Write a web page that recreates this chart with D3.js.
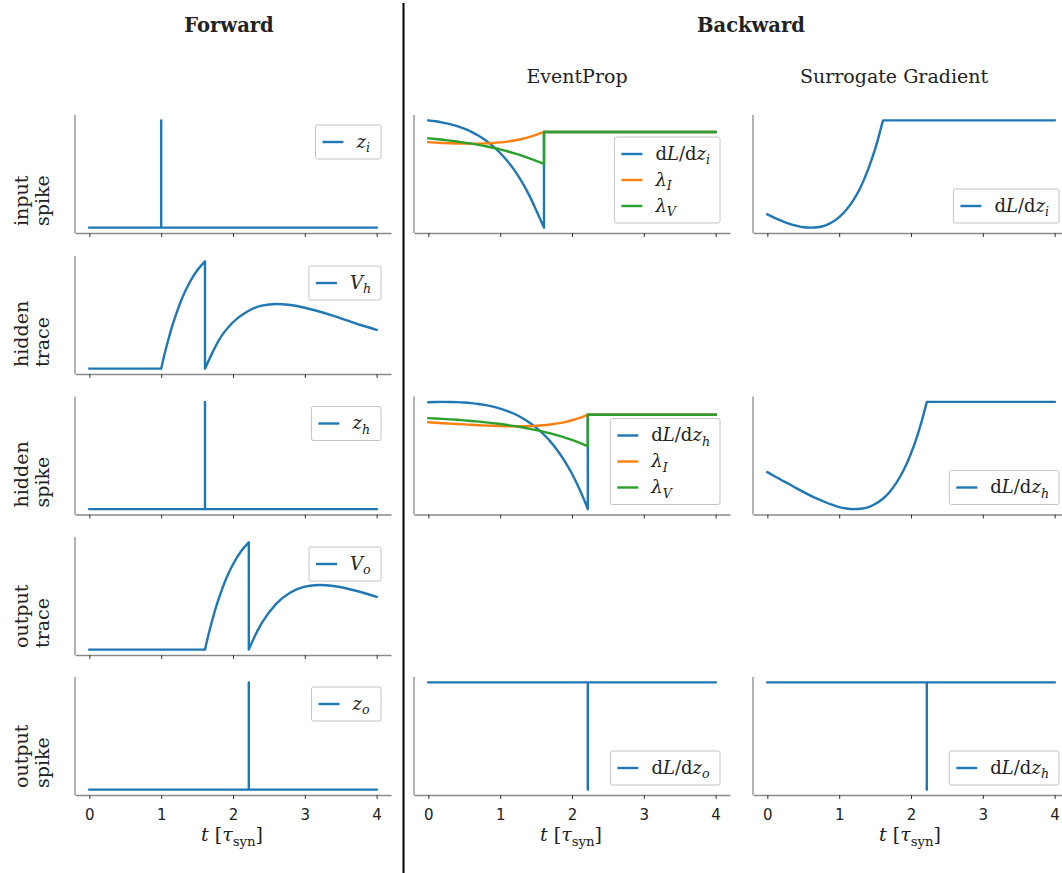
<!DOCTYPE html>
<html>
<head>
<meta charset="utf-8">
<script src="https://cdn.jsdelivr.net/npm/d3@7"></script>
<style>
  body { margin: 0; background: #fff; }
  svg text { font-family: "DejaVu Serif", serif; fill: #222; }
  svg .tick text { font-family: "DejaVu Sans", sans-serif; }
</style>
</head>
<body>
<div id="chart"></div>
<script>
// ---- data ----
const timeTicks = [0, 1, 2, 3, 4];
const rowLabels = [["input", "spike"], ["hidden", "trace"], ["hidden", "spike"], ["output", "trace"], ["output", "spike"]];
const colTitles = ["EventProp", "Surrogate Gradient"];

// forward pass
const inSpikeT = [0, 1.0, 1.0, 1.0, 4];
const inSpikeZ = [0, 0, 1, 0, 0];
const hidTraceT = [0, 1, 1, 1.05, 1.1, 1.15, 1.2, 1.3, 1.4, 1.5, 1.61, 1.61, 1.7, 1.8, 2.0, 2.2, 2.4, 2.6, 2.8, 3.0, 3.2, 3.4, 3.6, 3.8, 4.0];
const hidTraceV = [0, 0, 0, 0.143, 0.27, 0.387, 0.49, 0.667, 0.804, 0.91, 0.995, 0, 0.13, 0.26, 0.43, 0.53, 0.585, 0.60, 0.59, 0.565, 0.53, 0.49, 0.445, 0.40, 0.36];
const hidSpikeT = [0, 1.61, 1.61, 1.61, 4];
const hidSpikeZ = [0, 0, 1, 0, 0];
const outTraceT = [0, 1.61, 1.61, 1.66, 1.71, 1.76, 1.81, 1.91, 2.01, 2.11, 2.22, 2.22, 2.3, 2.4, 2.6, 2.8, 3.0, 3.2, 3.4, 3.6, 3.8, 4.0];
const outTraceV = [0, 0, 0, 0.143, 0.27, 0.387, 0.49, 0.667, 0.804, 0.91, 0.995, 0, 0.12, 0.245, 0.425, 0.53, 0.585, 0.60, 0.59, 0.565, 0.53, 0.49];
const outSpikeT = [0, 2.22, 2.22, 2.22, 4];
const outSpikeZ = [0, 0, 1, 0, 0];

// backward pass, input row
const bwInT = [0, 0.1, 0.2, 0.3, 0.4, 0.5, 0.6, 0.7, 0.8, 0.9, 1.0, 1.1, 1.2, 1.3, 1.4, 1.5, 1.61, 1.61, 4];
const epInGrad = [0.348, 0.321, 0.282, 0.234, 0.174, 0.096, 0, -0.117, -0.258, -0.429, -0.633, -0.873, -1.158, -1.494, -1.887, -2.346, -2.88, 0, 0];
const epInLamI = [-0.310, -0.321, -0.331, -0.340, -0.347, -0.352, -0.353, -0.351, -0.345, -0.334, -0.316, -0.291, -0.257, -0.213, -0.157, -0.087, 0, 0, 0];
const epInLamV = [-0.194, -0.214, -0.237, -0.262, -0.289, -0.320, -0.353, -0.390, -0.431, -0.477, -0.527, -0.582, -0.643, -0.711, -0.786, -0.869, -0.96, 0, 0];
const sgInGrad = [-2.77, -2.87, -2.96, -3.04, -3.10, -3.15, -3.16, -3.15, -3.10, -3.00, -2.85, -2.63, -2.34, -1.96, -1.46, -0.85, 0, 0, 0];

// backward pass, hidden row
const bwHidT = [0, 0.1, 0.2, 0.3, 0.4, 0.5, 0.6, 0.7, 0.8, 0.9, 1.0, 1.1, 1.2, 1.3, 1.4, 1.5, 1.6, 1.7, 1.8, 1.9, 2.0, 2.1, 2.2, 2.22, 2.22, 4];
const epHidGrad = [0.372, 0.381, 0.384, 0.381, 0.375, 0.363, 0.345, 0.321, 0.285, 0.240, 0.183, 0.111, 0.021, -0.090, -0.225, -0.384, -0.576, -0.804, -1.074, -1.392, -1.764, -2.202, -2.709, -2.82, 0, 0];
const epHidLamI = [-0.226, -0.240, -0.253, -0.265, -0.277, -0.289, -0.301, -0.313, -0.322, -0.331, -0.338, -0.344, -0.346, -0.345, -0.339, -0.330, -0.314, -0.291, -0.260, -0.219, -0.166, -0.100, -0.018, 0, 0, 0];
const epHidLamV = [-0.102, -0.113, -0.125, -0.138, -0.152, -0.168, -0.186, -0.206, -0.227, -0.251, -0.277, -0.307, -0.339, -0.375, -0.414, -0.458, -0.506, -0.559, -0.618, -0.683, -0.754, -0.834, -0.921, -0.94, 0, 0];
const sgHidGrad = [-2.07, -2.19, -2.31, -2.42, -2.54, -2.65, -2.76, -2.86, -2.95, -3.03, -3.10, -3.14, -3.16, -3.15, -3.11, -3.01, -2.87, -2.66, -2.37, -2.00, -1.52, -0.92, -0.17, 0, 0, 0];

// backward pass, output row
const bwOutT = [0, 2.22, 2.22, 2.22, 4];
const bwOutGrad = [0, 0, -1, 0, 0];

// ---- layout ----
const W = 1062, H = 873;
const colX = [75, 414, 753];
const rowY = [115, 256, 396.5, 537, 677];
const pw = 316, ph = 118;
const titleX = [577, 894];
const blue = '#1f77b4', orange = '#ff7f0e', green = '#2ca02c';
const spineColor = '#8a8a8a';
const lw = 2.4;

const dLdz = s => [['d', ''], ['L', 'i'], ['/', ''], ['d', ''], ['z', 'i'], [s, 'si']];
const lamI = [['λ', 'i'], ['I', 'si']];
const lamV = [['λ', 'i'], ['V', 'si']];

const panels = [
    { col: 0, row: 0, legend: 'upper', series: [{ t: inSpikeT, v: inSpikeZ, c: blue, label: [['z', 'i'], ['i', 'si']] }] },
    { col: 0, row: 1, legend: 'upper', series: [{ t: hidTraceT, v: hidTraceV, c: blue, label: [['V', 'i'], ['h', 'si']] }] },
    { col: 0, row: 2, legend: 'upper', series: [{ t: hidSpikeT, v: hidSpikeZ, c: blue, label: [['z', 'i'], ['h', 'si']] }] },
    { col: 0, row: 3, legend: 'upper', series: [{ t: outTraceT, v: outTraceV, c: blue, label: [['V', 'i'], ['o', 'si']] }] },
    { col: 0, row: 4, legend: 'upper', series: [{ t: outSpikeT, v: outSpikeZ, c: blue, label: [['z', 'i'], ['o', 'si']] }] },
    { col: 1, row: 0, legend: 'lower', series: [
        { t: bwInT, v: epInGrad, c: blue, label: dLdz('i') },
        { t: bwInT, v: epInLamI, c: orange, label: lamI },
        { t: bwInT, v: epInLamV, c: green, label: lamV }] },
    { col: 2, row: 0, legend: 'lower', series: [{ t: bwInT, v: sgInGrad, c: blue, label: dLdz('i') }] },
    { col: 1, row: 2, legend: 'lower', series: [
        { t: bwHidT, v: epHidGrad, c: blue, label: dLdz('h') },
        { t: bwHidT, v: epHidLamI, c: orange, label: lamI },
        { t: bwHidT, v: epHidLamV, c: green, label: lamV }] },
    { col: 2, row: 2, legend: 'lower', series: [{ t: bwHidT, v: sgHidGrad, c: blue, label: dLdz('h') }] },
    { col: 1, row: 4, legend: 'lower', series: [{ t: bwOutT, v: bwOutGrad, c: blue, label: dLdz('o') }] },
    { col: 2, row: 4, legend: 'lower', series: [{ t: bwOutT, v: bwOutGrad, c: blue, label: dLdz('h') }] }
];

const svg = d3.select('#chart').append('svg')
    .attr('width', W)
    .attr('height', H);

const x = d3.scaleLinear().domain([-0.2, 4.2]).range([0, pw]);

// write tspans for a small bit of math text
function richText(textSel, parts, fs) {
    let shifted = false;
    parts.forEach(([str, st]) => {
        const sp = textSel.append('tspan').text(str);
        if (st.includes('i')) sp.attr('font-style', 'italic');
        if (st.includes('s')) {
            sp.attr('font-size', fs * 0.7);
            if (!shifted) { sp.attr('dy', fs * 0.25); shifted = true; }
        } else if (shifted) {
            sp.attr('dy', -fs * 0.25);
            shifted = false;
        }
    });
}

// repeated time values mark a jump: draw each smooth piece and join them straight
function splitPieces(ts, vs) {
    const pieces = [];
    let cur = [];
    ts.forEach((t, i) => {
        if (i > 0 && t === ts[i - 1]) { pieces.push(cur); cur = []; }
        cur.push([t, vs[i]]);
    });
    pieces.push(cur);
    return pieces;
}

function pathFor(ts, vs, y) {
    const gen = d3.line().x(d => x(d[0])).y(d => y(d[1])).curve(d3.curveMonotoneX);
    return splitPieces(ts, vs).map((p, i) => {
        const s = p.length > 1 ? gen(p) : `M${x(p[0][0])},${y(p[0][1])}`;
        return i === 0 ? s : 'L' + s.slice(1);
    }).join('');
}

function drawLegend(g, p) {
    const fs = 18;
    const rowH = 26, padX = 7, handle = 21, gap = 13;
    const lg = g.append('g');
    const texts = p.series.map(s => {
        const t = lg.append('text').attr('font-size', fs);
        richText(t, s.label, fs);
        return t;
    });
    const tw = d3.max(texts, t => t.node().getBBox().width);
    const bw = padX + handle + gap + tw + 10;
    const bh = p.series.length * rowH + 8;
    const left = pw - 10 - bw;
    const top = p.legend === 'upper' ? 10 : ph - 10 - bh;

    lg.insert('rect', 'text')
        .attr('x', left).attr('y', top)
        .attr('width', bw).attr('height', bh)
        .attr('rx', 2)
        .attr('fill', 'white').attr('fill-opacity', 0.85)
        .attr('stroke', '#c4c4c4').attr('stroke-width', 1);

    p.series.forEach((s, i) => {
        const cy = top + 17 + i * rowH;
        lg.append('line')
            .attr('x1', left + padX).attr('x2', left + padX + handle)
            .attr('y1', cy).attr('y2', cy)
            .attr('stroke', s.c).attr('stroke-width', lw);
        texts[i].attr('x', left + padX + handle + gap).attr('y', cy + fs * 0.33);
    });
}

panels.forEach(p => {
    const all = p.series.flatMap(s => s.v);
    const [lo, hi] = d3.extent(all);
    const pad = (hi - lo) * 0.05;
    const y = d3.scaleLinear().domain([lo - pad, hi + pad]).range([ph, 0]);

    const g = svg.append('g').attr('transform', `translate(${colX[p.col]},${rowY[p.row]})`);

    const ax = g.append('g')
        .attr('transform', `translate(0,${ph})`)
        .call(d3.axisBottom(x)
            .tickValues(timeTicks)
            .tickSize(4)
            .tickSizeOuter(0)
            .tickPadding(10)
            .tickFormat(p.row === 4 ? d3.format('d') : ''));
    ax.select('.domain').attr('stroke', spineColor).attr('stroke-width', 1.3);
    ax.selectAll('.tick line').attr('stroke', '#333');
    ax.selectAll('.tick text')
        .attr('font-size', 15)
        .style('fill', '#222');

    g.append('line')
        .attr('x1', 0).attr('x2', 0)
        .attr('y1', 0).attr('y2', ph)
        .attr('stroke', spineColor).attr('stroke-width', 1.3);

    p.series.forEach(s => {
        g.append('path')
            .attr('d', pathFor(s.t, s.v, y))
            .attr('fill', 'none')
            .attr('stroke', s.c)
            .attr('stroke-width', lw)
            .attr('stroke-linejoin', 'round')
            .attr('stroke-linecap', 'square');
    });

    drawLegend(g, p);

    if (p.row === 4) {
        const xl = g.append('text')
            .attr('x', x(2) - 1)
            .attr('y', ph + 46)
            .attr('text-anchor', 'middle')
            .attr('font-size', 19);
        richText(xl, [['t', 'i'], [' [', ''], ['τ', 'i'], ['syn', 's'], [']', '']], 19);
    }
});

// row labels, two lines each, rotated
rowLabels.forEach((lines, r) => {
    const yb = rowY[r] + ph - 7;
    lines.forEach((ln, k) => {
        svg.append('text')
            .attr('transform', `translate(${27.5 + k * 21},${yb}) rotate(-90)`)
            .attr('font-size', 19)
            .text(ln);
    });
});

// headings
svg.append('text').attr('x', 229).attr('y', 32).attr('text-anchor', 'middle')
    .attr('font-size', 19.5).attr('font-weight', 'bold').text('Forward');
svg.append('text').attr('x', 751).attr('y', 32).attr('text-anchor', 'middle')
    .attr('font-size', 19.5).attr('font-weight', 'bold').text('Backward');
colTitles.forEach((t, i) => {
    svg.append('text')
        .attr('x', titleX[i])
        .attr('y', 83)
        .attr('text-anchor', 'middle')
        .attr('font-size', 19)
        .text(t);
});

// divider between forward and backward
svg.append('line')
    .attr('x1', 403.5).attr('x2', 403.5)
    .attr('y1', 3).attr('y2', H)
    .attr('stroke', '#000').attr('stroke-width', 2);
</script>
</body>
</html>
